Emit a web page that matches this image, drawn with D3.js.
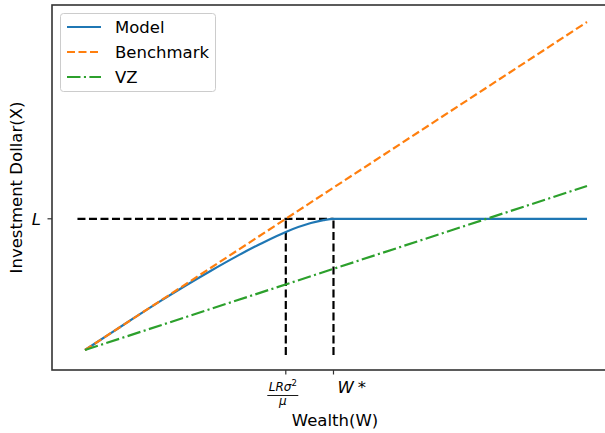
<!DOCTYPE html>
<html><head><meta charset="utf-8">
<script src="https://cdn.jsdelivr.net/npm/d3@7"></script>
<style>body{margin:0;background:#fff}svg{display:block;font-family:"DejaVu Sans",sans-serif}</style>
</head><body><svg id="c" width="605" height="433"></svg>
<script>
// Data
const wealth = [0,0.5,1,1.5,2,2.5,3,3.5,4,4.5,4.75,4.95,5.5,6,7,8,9,10];
const model = [0,0.5,1,1.49,1.96,2.41,2.84,3.24,3.6,3.87,3.96,4.0,4.0,4.0,4.0,4.0,4.0,4.0];
const benchmarkW = [0,10];
const benchmark = [0,10];
const vzW = [0,10];
const vz = [0,5];
const L = 4;
const wCross = 4;      // L R sigma^2 / mu
const wStar = 4.95;    // W*
const refLow = -0.15;
const seriesNames = ["Model","Benchmark","VZ"];
const colors = ["#1f77b4","#ff7f0e","#2ca02c"];

(function(){
const svg = d3.select("#c");
const x = d3.scaleLinear().domain([0,10]).range([85,587]);
const y = d3.scaleLinear().domain([0,10]).range([350,22]);
const pl = 52, pr = 618, pt = 5, pb = 370;
const FS = 16.5;

const g = svg.append("g");
const line = d3.line().x(d=>x(d[0])).y(d=>y(d[1]));
const LW = 2.2;

// reference dashed lines
g.append("path").attr("d", line([[refLow,L],[wStar,L]]))
 .attr("stroke","#000").attr("stroke-width",LW).attr("stroke-dasharray","8,3.5").attr("fill","none");
[wCross,wStar].forEach(w=>{
  g.append("path").attr("d", line([[w,refLow],[w,L]]))
   .attr("stroke","#000").attr("stroke-width",LW).attr("stroke-dasharray","8,3.5").attr("fill","none");
});

// series
g.append("path").attr("d", d3.line().x(d=>x(d[0])).y(d=>y(d[1])).curve(d3.curveMonotoneX)(wealth.map((w,i)=>[w,model[i]])))
 .attr("stroke",colors[0]).attr("stroke-width",LW).attr("fill","none");
g.append("path").attr("d", line(benchmarkW.map((w,i)=>[w,benchmark[i]])))
 .attr("stroke",colors[1]).attr("stroke-width",LW).attr("stroke-dasharray","8,3.5").attr("fill","none");
g.append("path").attr("d", line(vzW.map((w,i)=>[w,vz[i]])))
 .attr("stroke",colors[2]).attr("stroke-width",LW).attr("stroke-dasharray","13.5,3.4,2.1,3.4").attr("fill","none");

// axes frame
svg.append("rect").attr("x",pl).attr("y",pt).attr("width",pr-pl).attr("height",pb-pt)
 .attr("fill","none").attr("stroke","#333").attr("stroke-width",1.6);

// x ticks
[wCross,wStar].forEach(w=>{
  svg.append("line").attr("x1",x(w)).attr("x2",x(w)).attr("y1",pb).attr("y2",pb+4.5)
   .attr("stroke","#333").attr("stroke-width",1.2);
});
// y tick
svg.append("line").attr("x1",pl).attr("x2",pl-4.5).attr("y1",y(L)).attr("y2",y(L)).attr("stroke","#333").attr("stroke-width",1.2);
svg.append("text").attr("x",pl-11).attr("y",y(L)+6).attr("text-anchor","end")
 .attr("font-size",FS).attr("font-style","italic").text("L");

// fraction label
const fx = x(wCross) - 3;
const ft = svg.append("text").attr("x",fx).attr("y",391).attr("text-anchor","middle").attr("font-size",12).attr("font-style","italic");
ft.append("tspan").text("LRσ");
ft.append("tspan").attr("font-size",8.5).attr("dy",-5).attr("font-style","normal").text("2");
svg.append("line").attr("x1",fx-15.5).attr("x2",fx+15.5).attr("y1",395.5).attr("y2",395.5).attr("stroke","#000").attr("stroke-width",0.9);
svg.append("text").attr("x",fx).attr("y",405).attr("text-anchor","middle").attr("font-size",12).attr("font-style","italic").text("μ");

// W*
const wt = svg.append("text").attr("x",x(wStar)+4).attr("y",393).attr("text-anchor","start").attr("font-size",FS);
wt.append("tspan").attr("font-style","italic").text("W");
wt.append("tspan").attr("dx",4).text("*");

svg.append("text").attr("x",335).attr("y",426).attr("text-anchor","middle").attr("font-size",FS).text("Wealth(W)");
svg.append("text").attr("transform",`translate(22,${(pt+pb)/2}) rotate(-90)`).attr("text-anchor","middle").attr("font-size",FS).text("Investment Dollar(X)");

// legend
const lg = svg.append("g");
lg.append("rect").attr("x",60.5).attr("y",13.5).attr("width",155).attr("height",78).attr("rx",3)
 .attr("fill","#fff").attr("fill-opacity",0.8).attr("stroke","#ccc").attr("stroke-width",1);
const dashes = [null,"8,3.5","13.5,3.4,2.1,3.4"];
seriesNames.forEach((n,i)=>{
  const yy = 27 + i*25;
  lg.append("line").attr("x1",67).attr("x2",101).attr("y1",yy).attr("y2",yy)
   .attr("stroke",colors[i]).attr("stroke-width",LW).attr("stroke-dasharray",dashes[i]);
  lg.append("text").attr("x",115).attr("y",yy+6).attr("font-size",FS).text(n);
});
})();
</script></body></html>
